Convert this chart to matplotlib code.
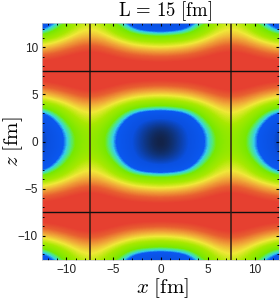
import numpy as np
import matplotlib
matplotlib.use('Agg')
import matplotlib.pyplot as plt
from matplotlib.colors import LinearSegmentedColormap
from matplotlib.ticker import MultipleLocator

plt.rcParams['mathtext.fontset'] = 'cm'
plt.rcParams['font.family'] = ['Liberation Sans', 'DejaVu Sans']

# quarter of the periodic cell (x and z run 0 .. 7.5 [fm], step 1.25)
density = [
    [0.00, 0.09, 0.20, 0.31, 0.41, 0.50, 0.54],
    [0.06, 0.12, 0.22, 0.33, 0.43, 0.51, 0.55],
    [0.24, 0.26, 0.31, 0.41, 0.50, 0.58, 0.62],
    [0.48, 0.49, 0.50, 0.54, 0.60, 0.66, 0.68],
    [0.64, 0.65, 0.67, 0.71, 0.76, 0.81, 0.84],
    [0.85, 0.86, 0.87, 0.89, 0.92, 0.95, 0.96],
    [0.98, 0.98, 0.98, 0.98, 0.99, 0.99, 1.00],
]
step = 1.25
wall_lines = [-7.5, 7.5]
tick_values = [-10, -5, 0, 5, 10]
tick_labels = ['\u221210', '\u22125', '0', '5', '10']
limit = 12.6

colors = [
    (0.00, '#15182a'), (0.10, '#10306e'), (0.25, '#0a50e0'), (0.39, '#0a58f0'),
    (0.42, '#38d0e8'), (0.45, '#50e880'), (0.48, '#78e800'), (0.57, '#a8e800'),
    (0.64, '#f0e838'), (0.71, '#f0a838'), (0.80, '#e86030'), (0.88, '#e64030'), (1.00, '#e64030'),
]
cmap = LinearSegmentedColormap.from_list('dens', colors)

q = np.array(density)
half = np.hstack([q[:, :0:-1], q])
cell = np.vstack([half[:0:-1], half])
# repeat the cell so the picture runs over to the next holes
tiled = np.tile(cell[:-1, :-1], (3, 3))
low = -22.5 - step / 2
high = low + tiled.shape[0] * step

fig = plt.figure(figsize=(2.8, 3.0), dpi=100)
ax = fig.add_axes([42 / 280, 1 - 260 / 300, 237 / 280, 237 / 300])

ax.imshow(tiled, extent=[low, high, low, high], origin='lower', cmap=cmap, vmin=0, vmax=1,
          interpolation='bicubic', aspect='auto')

for v in wall_lines:
    ax.axvline(v, color='#2a1a14', lw=1.2, alpha=0.9)
    ax.axhline(v, color='#101010', lw=1.0)

ax.set_xlim(-limit, limit)
ax.set_ylim(-limit, limit)
ax.set_xticks(tick_values, tick_labels)
ax.set_yticks(tick_values, tick_labels)
ax.xaxis.set_minor_locator(MultipleLocator(1))
ax.yaxis.set_minor_locator(MultipleLocator(1))
ax.tick_params(which='major', direction='in', top=True, right=True, length=2, width=0.8,
               labelsize=8.5, pad=3, labelcolor='#222222')
ax.tick_params(which='minor', direction='in', top=True, right=True, length=1.2, width=0.7)
for s in ax.spines.values():
    s.set_color('#cccccc')
    s.set_linewidth(0.5)

fig.text(165 / 280, 1 - 11 / 300, r'$\mathrm{L\,=\,15\ [fm]}$', ha='center', va='center', fontsize=13.5)
fig.text(162 / 280, 1 - 288 / 300, r'$x\ \mathrm{[fm]}$', ha='center', va='center', fontsize=15)
fig.text(13 / 280, 1 - 142 / 300, r'$z\ \mathrm{[fm]}$', ha='center', va='center', rotation=90, fontsize=15)

fig.savefig('out.png', dpi=100)
